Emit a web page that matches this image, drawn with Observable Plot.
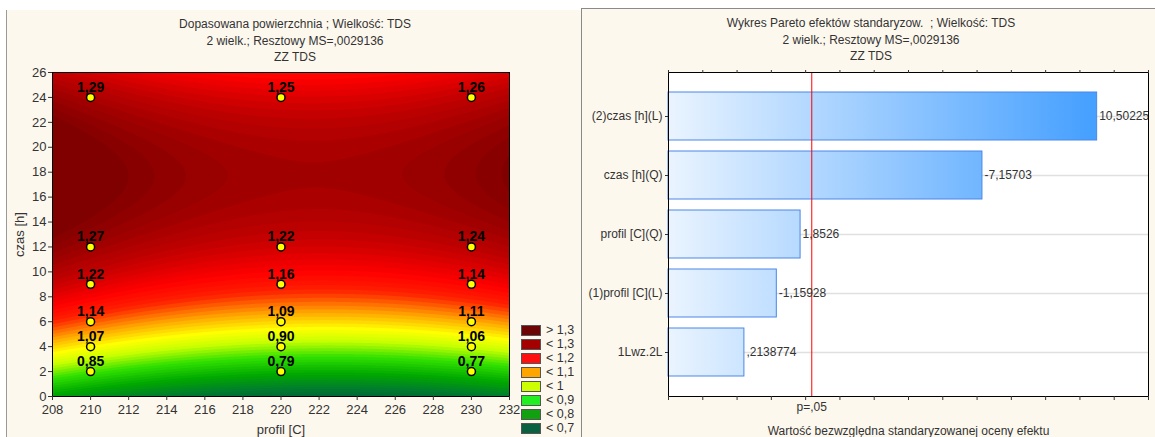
<!DOCTYPE html>
<html><head><meta charset="utf-8">
<script src="https://cdn.jsdelivr.net/npm/d3@7"></script>
<script src="https://cdn.jsdelivr.net/npm/@observablehq/plot@0.6"></script>
<style>
body{margin:0;background:#fff;font-family:Arial,"Liberation Sans",sans-serif;}
#root{position:relative;width:1155px;height:437px;overflow:hidden;}
.panel{position:absolute;background:#fdf8ee;}
#lp{left:6px;top:10px;width:575px;height:427px;border-left:1px solid #9a9a9a;}
#rp{left:581px;top:8px;width:574px;height:429px;border-left:1px solid #8a8a8a;border-top:1px solid #8a8a8a;}
.title{position:absolute;text-align:center;font-size:12px;color:#333;line-height:16.5px;white-space:pre;transform:translateX(-50%);}
.chart{position:absolute;top:0;}
.chart svg{overflow:visible;}
#legend{position:absolute;left:521px;top:323px;}
.lrow{display:flex;align-items:center;height:14px;}
.sw{width:18px;height:9px;border:1px solid #555;margin-right:5px;box-sizing:content-box;}
.lt{font-size:12.5px;color:#333;line-height:12px;}
</style>
</head>
<body>
<div id="root">
  <div class="panel" id="lp"></div>
  <div class="panel" id="rp"></div>
  <div class="title" id="lt" style="left:295px;top:16px;"></div>
  <div class="title" id="rt" style="left:871px;top:15px;"></div>
  <div class="chart" id="lc" style="left:0px;"></div>
  <div class="chart" id="rc" style="left:581px;"></div>
  <div id="legend"></div>
</div>
<script>
// ---------- Data: fitted surface panel ----------
const leftTitle = ["Dopasowana powierzchnia ; Wielkość: TDS", "2 wielk.; Resztowy MS=,0029136", "ZZ TDS"];
const rightTitle = ["Wykres Pareto efektów standaryzow.  ; Wielkość: TDS", "2 wielk.; Resztowy MS=,0029136", "ZZ TDS"];

const profilLevels = [210, 220, 230];
const czasLevels = [2, 4, 6, 9, 12, 24];
const tds210 = [0.85, 1.07, 1.14, 1.22, 1.27, 1.29];
const tds220 = [0.79, 0.90, 1.09, 1.16, 1.22, 1.25];
const tds230 = [0.77, 1.06, 1.11, 1.14, 1.24, 1.26];

const xDomain = [208, 232];
const yDomain = [0, 26];
const xTicks = [208, 210, 212, 214, 216, 218, 220, 222, 224, 226, 228, 230, 232];
const yTicks = [0, 2, 4, 6, 8, 10, 12, 14, 16, 18, 20, 22, 24, 26];

const legendLabels = ["> 1,3", "< 1,3", "< 1,2", "< 1,1", "< 1", "< 0,9", "< 0,8", "< 0,7"];
const legendColors = ["#6e0505", "#a50000", "#ff1010", "#ffa500", "#ccff00", "#22ee22", "#10a010", "#0a6040"];

const colorStops = [0.65, 0.72, 0.80, 0.88, 0.95, 1.0, 1.06, 1.13, 1.18, 1.25, 1.29, 1.32, 1.35];
const colorRange = ["#005a3c", "#007a30", "#00a800", "#30e000", "#c8ff00", "#ffff00", "#ffa500", "#ff2000", "#ff0000", "#c40000", "#a80000", "#940000", "#800000"];

// ---------- Data: Pareto panel ----------
const effectNames = ["(2)czas [h](L)", "czas [h](Q)", "profil [C](Q)", "(1)profil [C](L)", "1Lwz.2L"];
const effectValues = [10.50225, -7.15703, 1.8526, -1.15928, 0.2138774];
const effectTicks = [-2, -1, 0, 1, 2, 3, 4, 5, 6, 7, 8, 9, 10, 11, 12];
const tCrit = 2.179;
const critLabel = "p=,05";

// ---------- Build tables ----------
const tdsByProfil = [tds210, tds220, tds230];
const points = [];
profilLevels.forEach((p, i) => czasLevels.forEach((c, j) => points.push({x: p, y: c, v: tdsByProfil[i][j]})));

// Least-squares quadratic response surface fitted to the points
function fitSurface(pts) {
  const cx = 220, sx = 10, cy = 13, sy = 11;
  const basis = (x, y) => { const u = (x - cx) / sx, w = (y - cy) / sy; return [1, u, w, u * u, w * w, u * w]; };
  const n = 6;
  const A = Array.from({length: n}, () => new Array(n + 1).fill(0));
  for (const p of pts) {
    const b = basis(p.x, p.y);
    for (let r = 0; r < n; r++) { for (let c = 0; c < n; c++) A[r][c] += b[r] * b[c]; A[r][n] += b[r] * p.v; }
  }
  for (let c = 0; c < n; c++) {
    let piv = c;
    for (let r = c + 1; r < n; r++) if (Math.abs(A[r][c]) > Math.abs(A[piv][c])) piv = r;
    [A[c], A[piv]] = [A[piv], A[c]];
    for (let r = 0; r < n; r++) {
      if (r === c) continue;
      const f = A[r][c] / A[c][c];
      for (let k = c; k <= n; k++) A[r][k] -= f * A[c][k];
    }
  }
  const coef = A.map((row, i) => row[n] / row[i]);
  return (x, y) => basis(x, y).reduce((s, b, i) => s + b * coef[i], 0);
}
const surface = fitSurface(points);
const thresholds = d3.range(0.5, 1.45, 0.0125);

// ---------- Titles & legend ----------
document.getElementById("lt").textContent = leftTitle.join("\n");
document.getElementById("rt").textContent = rightTitle.join("\n");
const leg = d3.select("#legend");
legendLabels.forEach((l, i) => {
  const row = leg.append("div").attr("class", "lrow");
  row.append("div").attr("class", "sw").style("background", legendColors[i]);
  row.append("span").attr("class", "lt").text(l);
});

const fmtPoint = v => v.toFixed(2).replace(".", ",");
const fmtEffect = v => String(v).replace(/^(-?)0\./, "$1.").replace(".", ",");

// ---------- Left chart ----------
const left = Plot.plot({
  width: 575, height: 437,
  marginLeft: 52, marginRight: 66, marginTop: 72, marginBottom: 41,
  style: {background: "transparent", fontFamily: "Arial, 'Liberation Sans', sans-serif", fontSize: "13px", color: "#333"},
  x: {domain: xDomain},
  y: {domain: yDomain},
  color: {type: "linear", domain: colorStops, range: colorRange, clamp: true},
  marks: [
    Plot.contour({fill: surface, x1: xDomain[0], x2: xDomain[1], y1: yDomain[0], y2: yDomain[1], thresholds, stroke: "none", pixelSize: 1}),
    Plot.frame({stroke: "#000"}),
    Plot.axisX({ticks: xTicks, tickSize: 4, tickPadding: 4, label: "profil [C]", labelAnchor: "center", labelOffset: 37, labelArrow: "none"}),
    Plot.axisY({ticks: yTicks, tickSize: 4, tickPadding: 2, label: "czas [h]", labelAnchor: "center", labelOffset: 38, labelArrow: "none"}),
    Plot.dot(points, {x: "x", y: "y", r: 4, fill: "#ffff00", stroke: "#000", strokeWidth: 1.5}),
    Plot.text(points, {x: "x", y: "y", text: d => fmtPoint(d.v), dy: -10, fontWeight: "bold", fontSize: 14, fill: "#000"})
  ]
});
document.getElementById("lc").append(left);

// ---------- Right chart ----------
const effects = effectNames.map((name, i) => ({name, value: effectValues[i], abs: Math.abs(effectValues[i])}));
const right = Plot.plot({
  width: 574, height: 437,
  marginLeft: 87, marginRight: 7, marginTop: 72, marginBottom: 41,
  style: {background: "transparent", fontFamily: "Arial, 'Liberation Sans', sans-serif", fontSize: "12px", color: "#333"},
  x: {domain: [effectTicks[0], effectTicks[effectTicks.length - 1]]},
  y: {domain: effectNames, paddingInner: 0.18, paddingOuter: 0.335},
  marks: [
    Plot.frame({fill: "#fff"}),
    Plot.ruleY(effectNames, {stroke: "#e0e0e0", strokeWidth: 1.5}),
    Plot.barX(effects, {x1: effectTicks[0], x2: "abs", y: "name", fill: "url(#paretoGrad)", stroke: "#4a86e8", strokeWidth: 1}),
    Plot.ruleX([tCrit], {stroke: "#ff0000", strokeWidth: 1}),
    Plot.text(effects, {x: "abs", y: "name", text: d => fmtEffect(d.value), textAnchor: "start", dx: 2, fontSize: 12, fill: "#333"}),
    Plot.frame({stroke: "#000"}),
    Plot.axisY({tickSize: 3, tickPadding: 3, label: null, fontSize: 12}),
    Plot.axisX({ticks: effectTicks, tickSize: 4, tickFormat: () => "", label: "Wartość bezwzględna standaryzowanej oceny efektu", labelAnchor: "center", labelOffset: 38, labelArrow: "none"}),
    Plot.axisX({anchor: "top", ticks: effectTicks, tickSize: 3, tickFormat: () => "", label: null}),
    Plot.text([tCrit], {x: d => d, frameAnchor: "bottom", dy: 14, text: () => critLabel, fontSize: 12, fill: "#333"})
  ]
});
document.getElementById("rc").append(right);
{
  const xs = right.scale("x");
  const svg = d3.select(right.tagName.toLowerCase() === "svg" ? right : right.querySelector("svg"));
  const g = svg.insert("defs", ":first-child").append("linearGradient")
    .attr("id", "paretoGrad").attr("gradientUnits", "userSpaceOnUse")
    .attr("x1", xs.apply(effectTicks[0])).attr("x2", xs.apply(d3.max(effects, d => d.abs))).attr("y1", 0).attr("y2", 0);
  g.append("stop").attr("offset", 0).attr("stop-color", "#eaf4ff");
  g.append("stop").attr("offset", 1).attr("stop-color", "#449fff");
}
</script>
</body></html>
